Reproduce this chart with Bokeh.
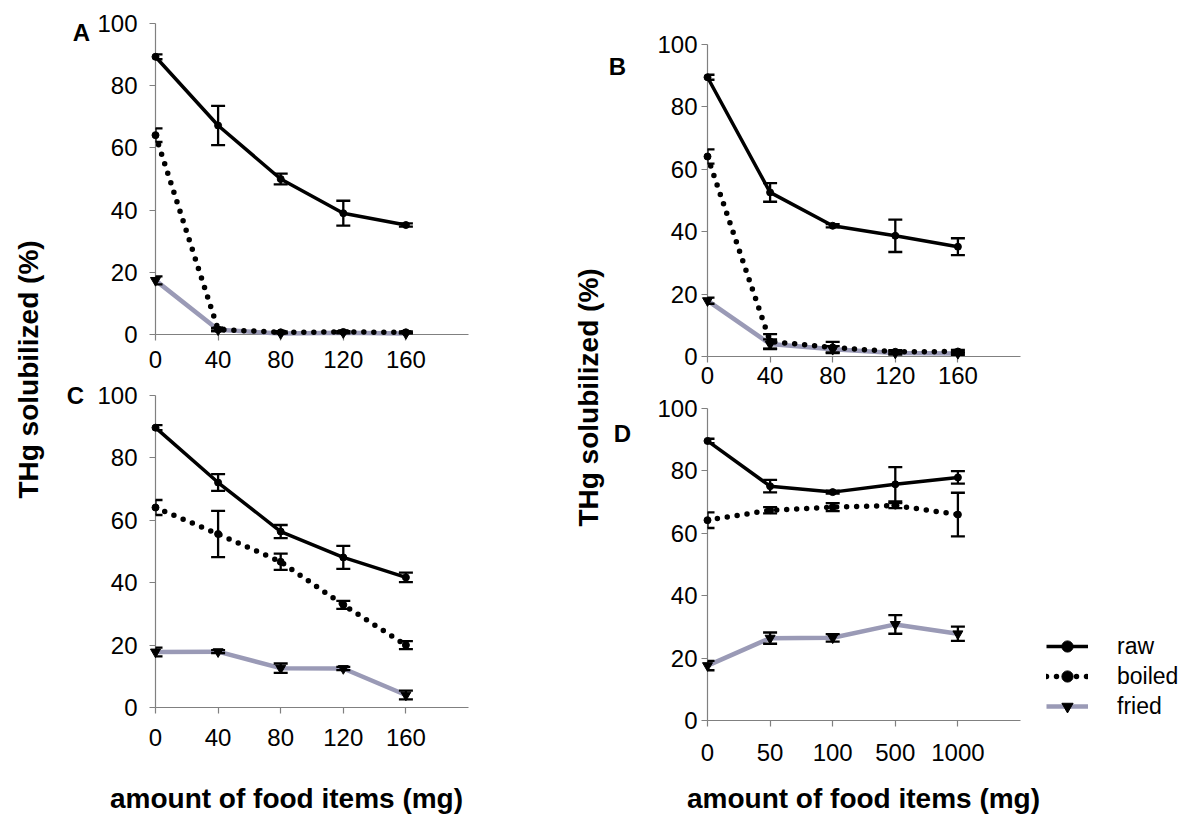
from bokeh.plotting import figure
from bokeh.layouts import row, column
from bokeh.models import (Range1d, FixedTicker, Whisker, TeeHead, ColumnDataSource,
                          Label, Legend, LegendItem)
from bokeh.core.properties import value
from bokeh.embed import file_html
from bokeh.resources import INLINE

# ---------------- data ----------------
cats_abc = ["0", "40", "80", "120", "160"]
cats_d = ["0", "50", "100", "500", "1000"]

a_raw = [89.3, 67.2, 50.0, 39.0, 35.2]
a_raw_err = [0.8, 6.3, 1.7, 4.0, 0.5]
a_boiled = [64.1, 1.6, 0.7, 0.8, 0.7]
a_boiled_err = [2.2, 0.5, 0.3, 0.3, 0.3]
a_fried = [17.4, 1.5, 0.3, 0.6, 0.3]
a_fried_err = [1.3, 0.4, 0.2, 0.4, 0.2]

b_raw = [89.5, 52.6, 41.9, 38.7, 35.2]
b_raw_err = [0.8, 3.0, 0.5, 5.2, 2.7]
b_boiled = [64.1, 4.8, 2.9, 1.5, 1.6]
b_boiled_err = [2.3, 2.4, 1.8, 0.5, 0.5]
b_fried = [17.9, 4.0, 2.3, 1.1, 1.0]
b_fried_err = [1.0, 1.5, 1.0, 0.5, 0.5]

c_raw = [89.7, 72.1, 56.4, 48.1, 41.7]
c_raw_err = [0.8, 2.7, 2.1, 3.7, 1.5]
c_boiled = [64.1, 55.6, 46.7, 32.9, 20.0]
c_boiled_err = [2.4, 7.4, 2.6, 1.3, 1.3]
c_fried = [17.8, 17.9, 12.6, 12.5, 4.0]
c_fried_err = [1.4, 0.5, 1.5, 0.5, 1.4]

d_raw = [89.6, 75.1, 73.2, 75.7, 77.9]
d_raw_err = [0.7, 2.0, 0.5, 5.5, 2.0]
d_boiled = [64.2, 67.4, 68.4, 68.9, 66.0]
d_boiled_err = [2.5, 1.0, 1.3, 0.8, 7.0]
d_fried = [17.6, 26.4, 26.5, 30.8, 27.8]
d_fried_err = [1.5, 1.8, 1.2, 3.0, 2.3]

y_ticks = [0, 20, 40, 60, 80, 100]
series_names = ["raw", "boiled", "fried"]
y_label = "THg solubilized (%)"
x_label = "amount of food items (mg)"

# ---------------- style ----------------
FONT = "Liberation Sans"
FRIED_COLOR = "#9a9ab6"
AXIS_COLOR = "#808080"
UNIT = 62.6  # px per category step


def make_panel(width, height, left, right, top, bottom, cats, raw, raw_err,
               boiled, boiled_err, fried, fried_err, letter, letter_xy,
               ylab_standoff, xlab_standoff, axis_len=None, xlabel_xy=None, legend_xy=None):
    frame_w = width - left - right
    frame_h = height - top - bottom
    xend = frame_w / UNIT
    p = figure(width=width, height=height, output_backend="svg", toolbar_location=None,
               x_range=Range1d(0, xend), y_range=Range1d(0, 100),
               min_border_left=left, min_border_right=right,
               min_border_top=top, min_border_bottom=bottom)
    p.outline_line_color = None
    p.grid.visible = False
    p.background_fill_color = "white"
    p.border_fill_color = "white"

    x = list(range(len(cats)))
    # axes
    p.xaxis.ticker = FixedTicker(ticks=x)
    p.xaxis.major_label_overrides = {i: c for i, c in enumerate(cats)}
    p.yaxis.ticker = FixedTicker(ticks=y_ticks)
    if axis_len is not None:
        p.xaxis.bounds = (0, axis_len / UNIT)
    for ax in (p.xaxis, p.yaxis):
        ax.axis_line_color = AXIS_COLOR
        ax.axis_line_width = 1.2
        ax.major_tick_line_color = AXIS_COLOR
        ax.major_tick_line_width = 1.2
        ax.major_tick_in = 0
        ax.major_tick_out = 6
        ax.minor_tick_line_color = None
        ax.major_label_text_font = FONT
        ax.major_label_text_font_size = "24px"
        ax.major_label_text_color = "black"
    p.xaxis.major_label_standoff = xlab_standoff
    p.yaxis.major_label_standoff = ylab_standoff

    src = ColumnDataSource(dict(
        x=x,
        raw=raw, raw_lo=[v - e for v, e in zip(raw, raw_err)], raw_hi=[v + e for v, e in zip(raw, raw_err)],
        boiled=boiled, boiled_lo=[v - e for v, e in zip(boiled, boiled_err)],
        boiled_hi=[v + e for v, e in zip(boiled, boiled_err)],
        fried=fried, fried_lo=[v - e for v, e in zip(fried, fried_err)],
        fried_hi=[v + e for v, e in zip(fried, fried_err)],
    ))

    fl = p.line("x", "fried", source=src, line_color=FRIED_COLOR, line_width=4.5, level="overlay")
    bl = p.line("x", "boiled", source=src, line_color="black", line_width=5.5,
                line_dash="0 10", line_cap="round", level="overlay")
    rl = p.line("x", "raw", source=src, line_color="black", line_width=3.5, level="overlay")

    for key in ("raw", "boiled", "fried"):
        w = Whisker(base="x", upper=key + "_hi", lower=key + "_lo", source=src,
                    line_color="black", line_width=2.3, level="overlay",
                    upper_head=TeeHead(size=14, line_width=2.3, line_color="black"),
                    lower_head=TeeHead(size=14, line_width=2.3, line_color="black"))
        p.add_layout(w)

    rm = p.scatter("x", "raw", source=src, marker="circle", size=7, color="black", level="overlay")
    bm = p.scatter("x", "boiled", source=src, marker="circle", size=7, color="black", level="overlay")
    fm = p.scatter("x", "fried", source=src, marker="inverted_triangle", size=10, color="black",
                   level="overlay")

    # panel letter (placed outside the frame, converted from pixel offsets)
    p.text(x=[letter_xy[0] / UNIT], y=[letter_xy[1] * 100.0 / frame_h], text=[letter],
           text_font=value(FONT), text_font_style=value("bold"), text_font_size=value("24px"),
           text_align="center", text_baseline="middle", text_color="black", level="overlay")
    if xlabel_xy is not None:
        p.text(x=[xlabel_xy[0] / UNIT], y=[xlabel_xy[1] * 100.0 / frame_h], text=[x_label],
               text_font=value(FONT), text_font_style=value("bold"), text_font_size=value("28px"),
               text_align="center", text_baseline="middle", text_color="black", level="overlay")
    if legend_xy is not None:
        items = [LegendItem(label=series_names[0], renderers=[rl, rm]),
                 LegendItem(label=series_names[1], renderers=[bl, bm]),
                 LegendItem(label=series_names[2], renderers=[fl, fm])]
        lg = Legend(items=items, location=legend_xy, padding=0, margin=0,
                    border_line_color=None, background_fill_alpha=0,
                    glyph_width=42, glyph_height=28, label_height=28, spacing=2,
                    label_standoff=29, label_text_font=FONT, label_text_font_size="23px",
                    label_text_color="black")
        p.add_layout(lg)
    return p


def strip(width, lx, ly):
    s = figure(width=width, height=814, output_backend="svg", toolbar_location=None,
               x_range=Range1d(0, width), y_range=Range1d(0, 814),
               x_axis_location=None, y_axis_location=None, min_border=0)
    s.grid.visible = False
    s.outline_line_color = None
    s.add_layout(Label(x=lx, y=814 - ly, text=y_label, angle=90, angle_units="deg",
                       text_align="center", text_baseline="middle", text_font=FONT,
                       text_font_style="bold", text_font_size="28px", text_color="black"))
    return s


# left column: x 60..545 ; right column: x 605..1185 (frames reach the right edge)
pA = make_panel(485, 375, 95, 77, 23, 41, cats_abc, a_raw, a_raw_err, a_boiled, a_boiled_err,
                a_fried, a_fried_err, "A", (-74, 302), 12, 10)
pC = make_panel(485, 439, 95, 77, 20, 107, cats_abc, c_raw, c_raw_err, c_boiled, c_boiled_err,
                c_fried, c_fried_err, "C", (-80, 312), 12, 15, xlabel_xy=(131, -91))
pB = make_panel(580, 394, 102, 0, 44, 38, cats_abc, b_raw, b_raw_err, b_boiled, b_boiled_err,
                b_fried, b_fried_err, "B", (-90, 290), 4, 4, axis_len=313)
pD = make_panel(580, 420, 102, 0, 14, 94, cats_d, d_raw, d_raw_err, d_boiled, d_boiled_err,
                d_fried, d_fried_err, "D", (-85, 287), 4, 17, axis_len=313,
                xlabel_xy=(156, -78), legend_xy=(339, 0))

sL = strip(60, 28, 369)
sR = strip(60, 43, 397)

layout = row(sL, column(pA, pC), sR, column(pB, pD))

open("out.html", "w").write(file_html(layout, INLINE))
